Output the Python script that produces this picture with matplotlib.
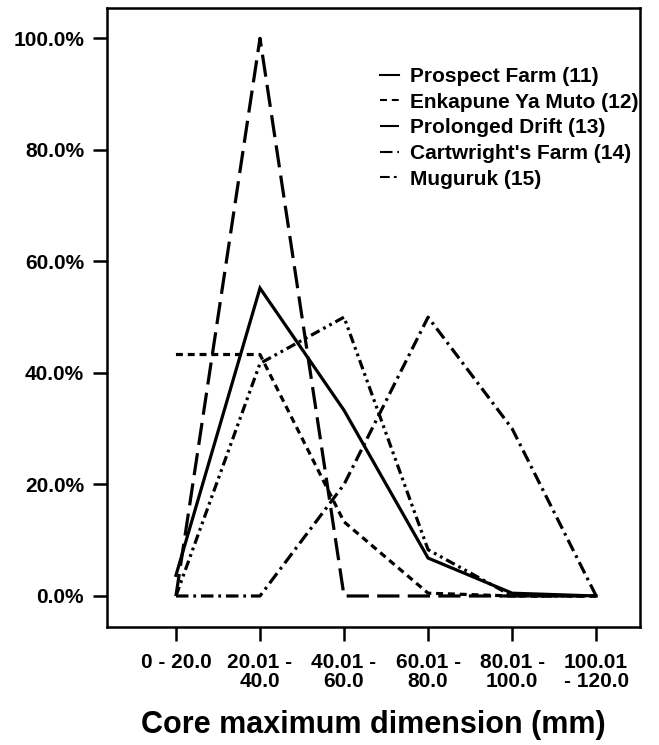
import matplotlib
matplotlib.use("Agg")
import matplotlib.pyplot as plt
from matplotlib.ticker import FuncFormatter

plt.rcParams['font.family'] = ['Liberation Sans', 'DejaVu Sans']
plt.rcParams['lines.scale_dashes'] = False

categories = ["0 - 20.0", "20.01 -\n40.0", "40.01 -\n60.0", "60.01 -\n80.0",
              "80.01 -\n100.0", "100.01\n- 120.0"]

prospect_farm = [3.7, 55.2, 33.3, 6.8, 0.5, 0.0]
enkapune_ya_muto = [43.3, 43.3, 13.3, 0.5, 0.0, 0.0]
prolonged_drift = [0.0, 100.0, 0.0, 0.0, 0.0, 0.0]
cartwrights_farm = [0.0, 0.0, 20.0, 50.0, 30.0, 0.0]
muguruk = [0.0, 41.7, 50.0, 8.3, 0.0, 0.0]

series = [
    ("Prospect Farm (11)", prospect_farm, None),
    ("Enkapune Ya Muto (12)", enkapune_ya_muto, (0, (5, 3.5))),
    ("Prolonged Drift (13)", prolonged_drift, (0, (16, 6))),
    ("Cartwright's Farm (14)", cartwrights_farm, (0, (9, 3.5, 2, 3.5))),
    ("Muguruk (15)", muguruk, (0, (7, 3, 2, 3, 2, 3))),
]

fig = plt.figure(figsize=(6.59, 7.45), dpi=100)
ax = fig.add_axes([0.1624, 0.1584, 0.971 - 0.1624, 0.989 - 0.1584])

x = list(range(len(categories)))
for label, values, dash in series:
    ls = '-' if dash is None else dash
    ax.plot(x, values, color='black', linewidth=2.3, linestyle=ls, label=label,
            solid_joinstyle='miter', dash_capstyle='butt')

ax.set_xlim(-0.82, 5.52)
ax.set_ylim(-5.56, 105.4)
ax.set_xticks(x)
ax.set_xticklabels(categories, linespacing=0.95)
ax.set_yticks([0, 20, 40, 60, 80, 100])
ax.yaxis.set_major_formatter(FuncFormatter(lambda v, p: f"{v:.1f}%"))

for side in ['left', 'right', 'top', 'bottom']:
    ax.spines[side].set_linewidth(1.8)

ax.tick_params(axis='both', direction='out', width=1.8, labelsize=15)
ax.tick_params(axis='x', length=10, pad=9)
ax.tick_params(axis='y', length=10, pad=6.5)
for t in ax.get_xticklabels() + ax.get_yticklabels():
    t.set_fontweight('bold')

ax.set_xlabel("Core maximum dimension (mm)", fontsize=22, fontweight='bold', labelpad=14)

leg = ax.legend(loc='upper left', bbox_to_anchor=(0.513, 0.905), frameon=False,
                handlelength=0.9, handletextpad=0.5, labelspacing=0.32,
                borderaxespad=0, borderpad=0,
                prop={'size': 15, 'weight': 'bold'})
for h in leg.get_lines():
    h.set_linewidth(1.5)

fig.savefig("out.png", dpi=100)
